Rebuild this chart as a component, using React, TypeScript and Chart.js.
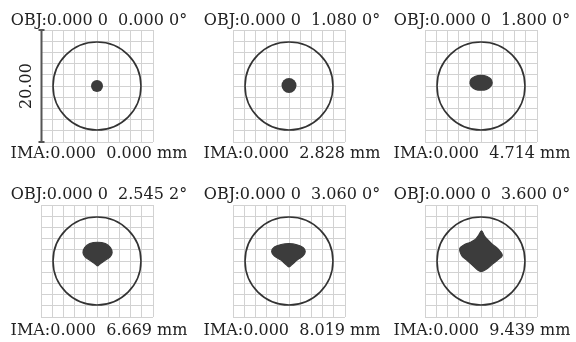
import React, { useEffect, useRef } from 'react';
import { Chart, registerables } from 'chart.js';

Chart.register(...registerables);

// ---------- data ----------
const objLabels = [
  'OBJ:0.000 0  0.000 0°',
  'OBJ:0.000 0  1.080 0°',
  'OBJ:0.000 0  1.800 0°',
  'OBJ:0.000 0  2.545 2°',
  'OBJ:0.000 0  3.060 0°',
  'OBJ:0.000 0  3.600 0°',
];
const imaLabels = [
  'IMA:0.000  0.000 mm',
  'IMA:0.000  2.828 mm',
  'IMA:0.000  4.714 mm',
  'IMA:0.000  6.669 mm',
  'IMA:0.000  8.019 mm',
  'IMA:0.000  9.439 mm',
];
const scaleBarLabel = '20.00';
const axisMin = -10;
const axisMax = 10;
const gridStep = 2;
const airyRadius = 7.85;

// spot centroids (round spots) in µm
const spot1 = [{ x: 0, y: 0 }];
const spot2 = [{ x: 0, y: 0.1 }];
// spot outlines in µm (closed)
const spot3 = [
  { x: -2.0, y: 0.6 }, { x: -1.7, y: 1.3 }, { x: -1.0, y: 1.75 }, { x: 0, y: 1.9 },
  { x: 1.0, y: 1.75 }, { x: 1.7, y: 1.3 }, { x: 2.0, y: 0.6 }, { x: 1.7, y: -0.1 },
  { x: 1.0, y: -0.6 }, { x: 0, y: -0.75 }, { x: -1.0, y: -0.6 }, { x: -1.7, y: -0.1 },
  { x: -2.0, y: 0.6 },
];
const spot4 = [
  { x: 0.1, y: -0.9 }, { x: 0.6, y: -0.5 }, { x: 1.4, y: 0.1 }, { x: 2.3, y: 0.7 },
  { x: 2.7, y: 1.5 }, { x: 2.4, y: 2.4 }, { x: 1.5, y: 3.1 }, { x: 0.1, y: 3.35 },
  { x: -1.3, y: 3.1 }, { x: -2.2, y: 2.4 }, { x: -2.5, y: 1.5 }, { x: -2.1, y: 0.7 },
  { x: -1.2, y: 0.1 }, { x: -0.4, y: -0.5 }, { x: 0.1, y: -0.9 },
];
const spot5 = [
  { x: 0, y: -1.1 }, { x: 0.6, y: -0.6 }, { x: 1.5, y: 0.2 }, { x: 2.5, y: 0.9 },
  { x: 2.9, y: 1.7 }, { x: 2.5, y: 2.4 }, { x: 1.4, y: 2.9 }, { x: 0, y: 3.1 },
  { x: -1.4, y: 2.95 }, { x: -2.6, y: 2.5 }, { x: -3.1, y: 1.7 }, { x: -2.6, y: 0.9 },
  { x: -1.5, y: 0.2 }, { x: -0.6, y: -0.6 }, { x: 0, y: -1.1 },
];
const spot6 = [
  { x: 0, y: -1.9 }, { x: 0.4, y: -1.8 }, { x: 1.2, y: -1.3 }, { x: 2.0, y: -0.6 },
  { x: 3.0, y: 0.2 }, { x: 3.8, y: 1.0 }, { x: 3.0, y: 2.2 }, { x: 2.0, y: 3.0 },
  { x: 1.2, y: 3.8 }, { x: 0.6, y: 4.5 }, { x: 0.1, y: 5.4 }, { x: -0.5, y: 4.5 },
  { x: -1.1, y: 3.8 }, { x: -2.0, y: 3.3 }, { x: -3.0, y: 2.9 }, { x: -3.8, y: 2.2 },
  { x: -3.4, y: 0.9 }, { x: -2.6, y: 0.2 }, { x: -1.6, y: -0.7 }, { x: -0.6, y: -1.6 },
  { x: 0, y: -1.9 },
];
const spot6Loop = [{ x: 0.1, y: -1.0 }];

const roundSpots = [spot1, spot2, null, null, null, null];
const shapeSpots = [null, null, spot3, spot4, spot5, spot6];
const loopSpots = [null, null, null, null, null, spot6Loop];

// ---------- layout / style ----------
const FONT = "'DejaVu Serif', 'Liberation Serif', serif";
const TEXT_COLOR = '#222';
const SPOT_COLOR = '#3c3c3c';
const GRID_COLOR = '#d2d2d2';
const FONT_SPEC = { family: FONT, size: 16, weight: 'normal', lineHeight: 1.125 };

const cols = [
  { left: 0, width: 198, leftGap: 41, rightGap: 45 },
  { left: 194, width: 196, leftGap: 39, rightGap: 45 },
  { left: 388, width: 188, leftGap: 37, rightGap: 39 },
];
const rows = [
  { top: 0, height: 171, titlePad: { top: 12, bottom: 0 }, subPad: { top: 2.5, bottom: 8.5 } },
  { top: 171, height: 171, titlePad: { top: 15, bottom: 1 }, subPad: { top: 4.5, bottom: 2.5 } },
];

const airyPlugin = {
  id: 'airy',
  beforeDatasetsDraw(chart: any) {
    const { ctx, scales } = chart;
    const xs = scales.x;
    const ys = scales.y;
    const cx = xs.getPixelForValue(0);
    const cy = ys.getPixelForValue(0);
    const r = Math.abs(xs.getPixelForValue(airyRadius) - cx);
    ctx.save();
    ctx.beginPath();
    ctx.arc(cx, cy, r, 0, Math.PI * 2);
    ctx.strokeStyle = '#333';
    ctx.lineWidth = 1.6;
    ctx.stroke();
    ctx.restore();
  },
};

const barPlugin = {
  id: 'scaleBar',
  afterDraw(chart: any) {
    const opts = chart.options.plugins.scaleBar;
    if (!opts || !opts.show) return;
    const { ctx, chartArea } = chart;
    const x = chartArea.left + 0.5;
    ctx.save();
    ctx.strokeStyle = '#555';
    ctx.lineWidth = 2;
    ctx.beginPath();
    ctx.moveTo(x, chartArea.top);
    ctx.lineTo(x, chartArea.bottom);
    ctx.moveTo(x - 3, chartArea.top);
    ctx.lineTo(x + 3, chartArea.top);
    ctx.moveTo(x - 3, chartArea.bottom);
    ctx.lineTo(x + 3, chartArea.bottom);
    ctx.stroke();
    ctx.restore();
  },
};

function SpotPanel({ idx }: { idx: number }) {
  const ref = useRef<HTMLCanvasElement>(null);
  const col = cols[idx % 3];
  const row = rows[Math.floor(idx / 3)];
  useEffect(() => {
    const datasets: any[] = [];
    const round = roundSpots[idx];
    if (round) {
      datasets.push({
        data: round,
        pointRadius: idx === 0 ? 6 : 7.5,
        backgroundColor: SPOT_COLOR,
        borderWidth: 0,
        showLine: false,
      });
    }
    const shape = shapeSpots[idx];
    if (shape) {
      datasets.push({
        data: shape,
        showLine: true,
        pointRadius: 0,
        borderColor: SPOT_COLOR,
        borderWidth: 1.2,
        backgroundColor: SPOT_COLOR,
        fill: 'shape',
        tension: 0.35,
      });
    }
    const loop = loopSpots[idx];
    if (loop) {
      datasets.push({
        data: loop,
        pointRadius: 3,
        backgroundColor: '#d8d8d8',
        borderColor: '#333',
        borderWidth: 1,
        showLine: false,
      });
    }
    const axisCommon = {
      type: 'linear',
      min: axisMin,
      max: axisMax,
      ticks: { display: false, stepSize: gridStep },
      grid: { color: GRID_COLOR, lineWidth: 1, drawTicks: false },
      border: { display: false },
    };
    const chart = new Chart(ref.current as HTMLCanvasElement, {
      type: 'scatter',
      data: { datasets },
      options: {
        responsive: false,
        animation: false,
        layout: { padding: 0 },
        plugins: {
          legend: { display: false },
          tooltip: { enabled: false },
          title: {
            display: true,
            text: objLabels[idx],
            color: TEXT_COLOR,
            font: FONT_SPEC,
            padding: row.titlePad,
          },
          subtitle: {
            display: true,
            position: 'bottom',
            text: imaLabels[idx],
            color: TEXT_COLOR,
            font: FONT_SPEC,
            padding: row.subPad,
          },
          scaleBar: { show: idx === 0 },
        } as any,
        scales: {
          x: {
            ...axisCommon,
            position: 'bottom',
            afterFit: (s: any) => { s.height = 0; },
          },
          y: {
            ...axisCommon,
            position: 'left',
            title: {
              display: idx === 0,
              text: scaleBarLabel,
              color: TEXT_COLOR,
              font: FONT_SPEC,
              padding: { top: 18, bottom: 4 },
            },
            afterFit: (s: any) => { s.width = col.leftGap; },
          },
          yR: {
            type: 'linear',
            position: 'right',
            display: true,
            min: axisMin,
            max: axisMax,
            ticks: { display: false },
            grid: { display: false, drawTicks: false },
            border: { display: false },
            afterFit: (s: any) => { s.width = col.rightGap; },
          },
        } as any,
      },
      plugins: [airyPlugin, barPlugin],
    } as any);
    return () => chart.destroy();
  }, []);
  return (
    <canvas
      ref={ref}
      width={col.width}
      height={row.height}
      style={{ position: 'absolute', left: col.left, top: row.top, width: col.width, height: row.height }}
    />
  );
}

export default function App() {
  return (
    <div style={{ position: 'absolute', left: 0, top: 0, width: 576, height: 342, background: '#fff', overflow: 'hidden' }}>
      {[0, 1, 2, 3, 4, 5].map((i) => (
        <SpotPanel key={i} idx={i} />
      ))}
    </div>
  );
}
